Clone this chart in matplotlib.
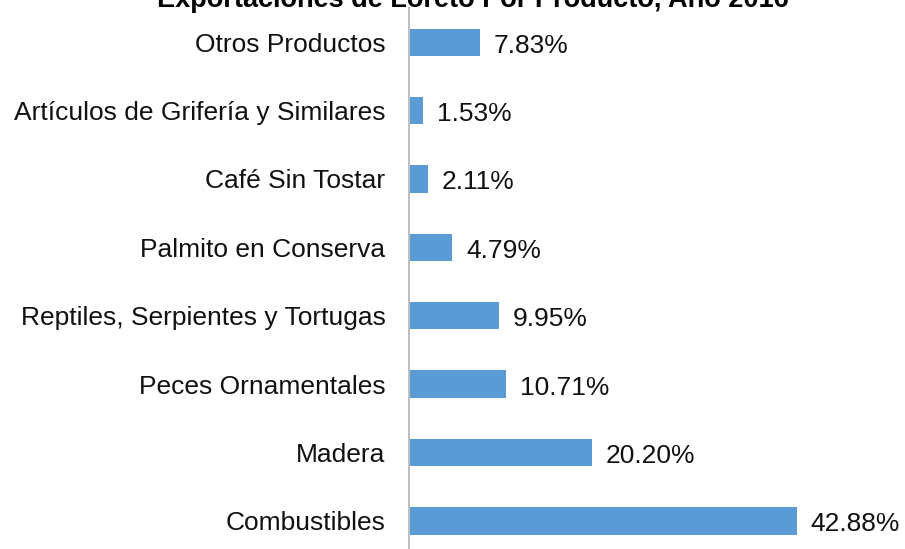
import matplotlib.pyplot as plt

# Data (bottom to top order in the chart)
productos = ['Combustibles', 'Madera', 'Peces Ornamentales',
             'Reptiles, Serpientes y Tortugas', 'Palmito en Conserva',
             'Café Sin Tostar', 'Artículos de Grifería y Similares',
             'Otros Productos']
porcentajes = [42.88, 20.20, 10.71, 9.95, 4.79, 2.11, 1.53, 7.83]

plt.rcParams['font.family'] = ['Liberation Sans', 'DejaVu Sans']

fig = plt.figure(figsize=(9.05, 5.49), dpi=100)
ax = fig.add_axes([409 / 905, 0, 452 / 905, 541 / 549])

ypos = range(len(productos))
ax.barh(ypos, porcentajes, height=0.4, color='#5B9BD5')
for y, v in zip(ypos, porcentajes):
    ax.annotate(f'{v:.2f}%', (v, y), xytext=(10, -2.5), textcoords='offset points',
                va='center', ha='left', fontsize=19, color='#111111')

ax.set_xlim(0, 50)
ax.set_ylim(-0.41, 7.5)
ax.set_yticks(list(ypos))
ax.set_yticklabels(productos, fontsize=19, color='#111111')
ax.tick_params(axis='y', length=0, pad=17)
ax.set_xticks([])
for s in ['top', 'right', 'bottom']:
    ax.spines[s].set_visible(False)
ax.spines['left'].set_color('#BFBFBF')
ax.spines['left'].set_linewidth(1.5)

# title is partly cut off at the top edge, as in the original
fig.text(0.522, 542 / 549, 'Exportaciones de Loreto Por Producto, Año 2016',
         ha='center', va='baseline', fontsize=19.5, fontweight='bold')

fig.savefig('out.png', dpi=100)
